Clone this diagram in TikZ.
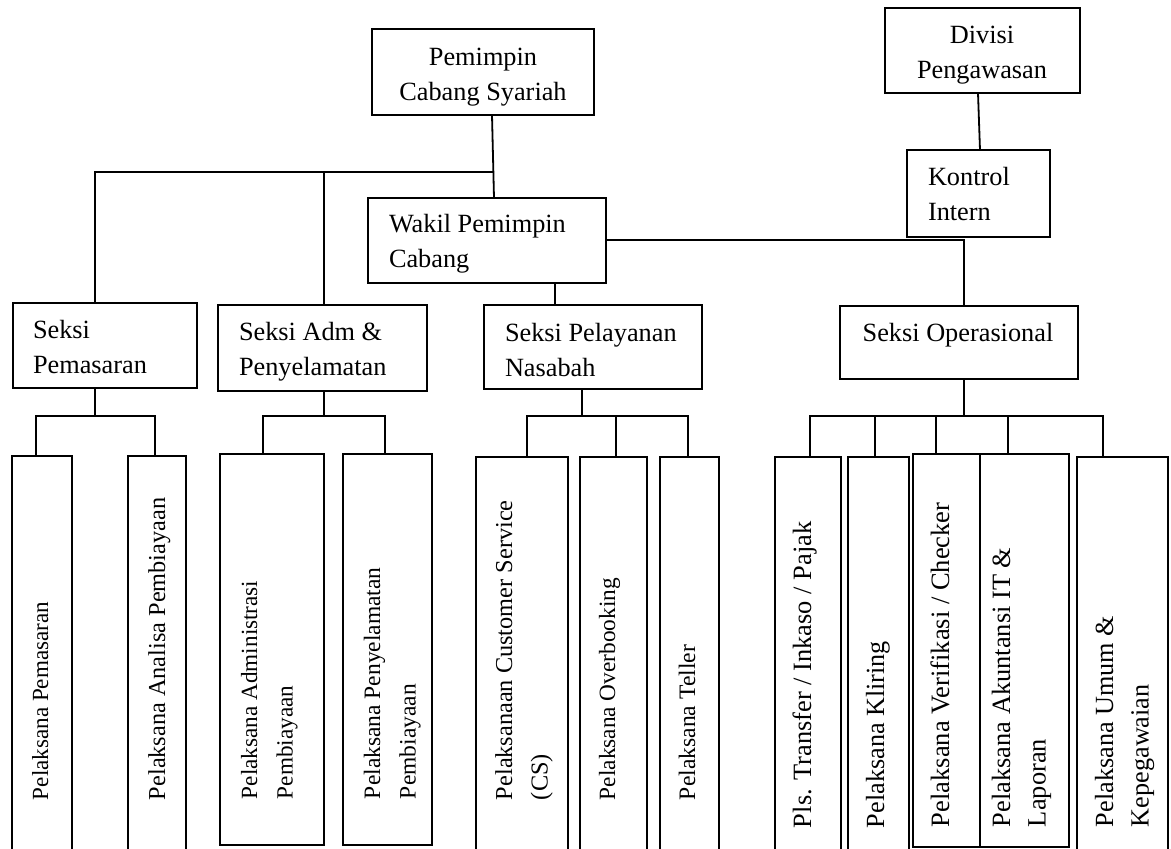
\documentclass[tikz,border=0pt]{standalone}
\usepackage{fontspec}
\setmainfont{Liberation Serif}
\newcommand{\mybox}[5]{\node[box,minimum width={(#4-#2)*1pt},minimum height={(#5-#3)*1pt}] (#1) at ({(#2+#4)/2},{(#3+#5)/2}) {};}
\tikzset{
  box/.style={draw=black, line width=1.8pt, fill=white, inner sep=0pt, outer sep=0pt},
  ln/.style={draw=black, line width=1.8pt},
  txt/.style={inner sep=0pt, outer sep=0pt, align=left, font=\fontsize{26.3}{35.5}\selectfont},
  rtxt/.style={inner sep=0pt, outer sep=0pt, align=left, rotate=90, anchor=north west, font=\fontsize{#1}{35.5}\selectfont}
}
\begin{document}
\begin{tikzpicture}[x=1pt,y=-1pt]
\fill[white] (0,0) rectangle (1171,849);
\useasboundingbox (0,0) rectangle (1171,849);

% upper boxes
\mybox{pem}{372}{29}{594}{115}
\mybox{div}{885}{8}{1080}{93}
\mybox{kon}{907}{150}{1050}{237}
\mybox{wak}{368}{198}{606}{283}
\mybox{sp}{13}{303}{197}{388}
\mybox{sa}{218}{305}{427}{391}
\mybox{spn}{484}{305}{702}{389}
\mybox{so}{840}{306}{1078}{379}

% lower boxes
\mybox{b1}{12}{456}{72}{870}
\mybox{b2}{128}{456}{186}{870}
\mybox{b3}{220}{454}{324}{845}
\mybox{b4}{343}{454}{432}{845}
\mybox{b5}{476}{457}{568}{870}
\mybox{b6}{580}{457}{647}{870}
\mybox{b7}{660}{457}{719}{870}
\mybox{b8}{775}{457}{841}{870}
\mybox{b9}{848}{457}{909}{870}
\mybox{b10}{913}{454}{980}{847}
\mybox{b11}{980}{454}{1069}{847}
\mybox{b12}{1077}{457}{1168}{870}

% upper texts
\node[txt, align=center, anchor=north] (pemt) at (483,40.15) {\strut Pemimpin\\\strut Cabang Syariah};
\node[txt, align=center, anchor=north] (divt) at (982,18.15) {\strut Divisi\\\strut Pengawasan};
\node[txt, anchor=north west] (kont) at (928,160.15) {\strut Kontrol\\\strut Intern};
\node[txt, anchor=north west] (wakt) at (389,207.15) {\strut Wakil Pemimpin\\\strut Cabang};
\node[txt, anchor=north west] (spt) at (33,313.15) {\strut Seksi\\\strut Pemasaran};
\node[txt, anchor=north west] (sat) at (239,315.15) {\strut Seksi Adm \&\\\strut Penyelamatan};
\node[txt, anchor=north west] (spnt) at (505,316.15) {\strut Seksi Pelayanan\\\strut Nasabah};
\node[txt, align=center, anchor=north] (sot) at (958,316.15) {\strut Seksi Operasional};

% rotated texts
\node[rtxt=23.1] (b1t) at (23.15,800) {\strut Pelaksana Pemasaran};
\node[rtxt=24.3] (b2t) at (140.15,800) {\strut Pelaksana Analisa Pembiayaan};
\node[rtxt=23.2] (b3t) at (232.15,799) {\strut Pelaksana Administrasi\\\strut Pembiayaan};
\node[rtxt=23.5] (b4t) at (355.15,799) {\strut Pelaksana Penyelamatan\\\strut Pembiayaan};
\node[rtxt=24.3] (b5t) at (487.15,800) {\strut Pelaksanaan Customer Service\\\strut (CS)};
\node[rtxt=23.3] (b6t) at (590.15,800) {\strut Pelaksana Overbooking};
\node[rtxt=23.6] (b7t) at (670.15,800) {\strut Pelaksana Teller};
\node[rtxt=26.4] (b8t) at (786.15,828) {\strut Pls. Transfer / Inkaso / Pajak};
\node[rtxt=26.2] (b9t) at (859.15,828) {\strut Pelaksana Kliring};
\node[rtxt=26.5] (b10t) at (924.15,827) {\strut Pelaksana Verifikasi / Checker};
\node[rtxt=26.4] (b11t) at (985.15,827) {\strut Pelaksana Akuntansi IT \&\\\strut Laporan};
\node[rtxt=26.2] (b12t) at (1088.15,827) {\strut Pelaksana Umum \&\\\strut Kepegawaian};

% junction coordinates
\coordinate (p1) at (492,0);
\coordinate (p2) at (494,0);
\coordinate (t0) at (493,172);
\coordinate (hl) at (95,172);
\coordinate (ha) at (324,172);
\coordinate (wv) at (555,0);
\coordinate (kr) at (964,240);
\coordinate (dv1) at (978,0);
\coordinate (dv2) at (980,0);

\coordinate (j1) at (95,416);
\coordinate (j2) at (324,416);
\coordinate (j3) at (582,416);
\coordinate (j4) at (964,416);
\coordinate (d1) at (36,416);
\coordinate (d2) at (155,416);
\coordinate (d3) at (263,416);
\coordinate (d4) at (385,416);
\coordinate (d5) at (527,416);
\coordinate (d6) at (616,416);
\coordinate (d7) at (688,416);
\coordinate (d8) at (810,416);
\coordinate (d9) at (875,416);
\coordinate (d10) at (936,416);
\coordinate (d11) at (1008,416);
\coordinate (d12) at (1103,416);

% upper connectors
\draw[ln] (pem.south -| p1) -- (wak.north -| p2);
\draw[ln] (sp.north -| hl) -- (hl) -- (t0);
\draw[ln] (sa.north -| ha) -- (ha);
\draw[ln] (wak.south -| wv) -- (spn.north -| wv);
\draw[ln] (wak.east |- kr) -- (kr) -- (so.north -| kr);
\draw[ln] (div.south -| dv1) -- (kon.north -| dv2);

% lower connectors
\draw[ln] (sp.south -| j1) -- (j1);
\draw[ln] (b1.north -| d1) -- (d1) -- (d2) -- (b2.north -| d2);
\draw[ln] (sa.south -| j2) -- (j2);
\draw[ln] (b3.north -| d3) -- (d3) -- (d4) -- (b4.north -| d4);
\draw[ln] (spn.south -| j3) -- (j3);
\draw[ln] (b5.north -| d5) -- (d5) -- (d7) -- (b7.north -| d7);
\draw[ln] (d6) -- (b6.north -| d6);
\draw[ln] (so.south -| j4) -- (j4);
\draw[ln] (b8.north -| d8) -- (d8) -- (d12) -- (b12.north -| d12);
\draw[ln] (d9) -- (b9.north -| d9);
\draw[ln] (d10) -- (b10.north -| d10);
\draw[ln] (d11) -- (b11.north -| d11);
\end{tikzpicture}
\end{document}
